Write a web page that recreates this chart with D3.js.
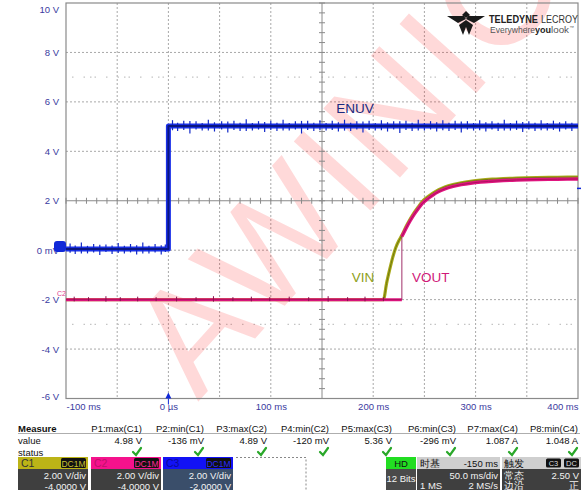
<!DOCTYPE html>
<html>
<head>
<meta charset="utf-8">
<script src="https://cdn.jsdelivr.net/npm/d3@7"></script>
<style>
  html, body { margin: 0; padding: 0; background: #fff; }
  svg { display: block; font-family: "Liberation Sans", Arial, sans-serif; }
</style>
</head>
<body>
<svg id="scope" width="581" height="490"></svg>
<script>
// ---- data ---------------------------------------------------------------
const timeTicks = [-100, 0, 100, 200, 300, 400];
const timeTickLabels = ["-100 ms", "0 \u00b5s", "100 ms", "200 ms", "300 ms", "400 ms"];
const voltTicks = [10, 8, 6, 4, 2, 0, -2, -4, -6];
const voltTickLabels = ["10 V", "8 V", "6 V", "4 V", "2 V", "0 mV", "-2 V", "-4 V", "-6 V"];

// ENUV (C3): low before the enable edge, high after
const enuvTimes  = [-100, 0, 0, 400];
const enuvValues = [0.05, 0.05, 5.02, 5.02];
// noise spikes on ENUV: [time ms, excursion V]
const enuvSpikes = [
  [-96,0.22],[-91,-0.2],[-85,0.26],[-79,-0.18],[-73,0.2],[-67,-0.24],[-61,0.18],[-55,-0.2],
  [-49,0.24],[-43,-0.18],[-37,0.2],[-31,-0.22],[-25,0.26],[-19,-0.18],[-13,0.2],[-7,-0.22],[-3,0.18],
  [4,0.24],[9,-0.2],[15,0.22],[21,-0.3],[27,0.2],[33,-0.18],[39,0.26],[45,-0.22],[52,0.2],[58,-0.26],
  [64,0.22],[70,-0.2],[76,0.28],[82,-0.18],[88,0.2],[94,-0.24],[100,0.22],[106,-0.2],[112,0.26],
  [118,-0.18],[124,0.2],[130,-0.3],[136,0.22],[142,-0.2],[148,0.24],[154,-0.18],[160,0.22],[166,-0.22],
  [172,0.26],[178,-0.2],[184,0.2],[190,-0.26],[196,0.22],[202,-0.18],[208,0.24],[214,-0.22],[220,0.2],
  [226,-0.28],[232,0.22],[238,-0.2],[244,0.26],[250,-0.18],[256,0.2],[262,-0.22],[268,0.24],[274,-0.2],
  [280,0.22],[286,-0.26],[292,0.2],[298,-0.18],[304,0.24],[310,-0.22],[316,0.2],[322,-0.2],[328,0.26],
  [334,-0.18],[340,0.22],[346,-0.24],[352,0.2],[358,-0.2],[364,0.24],[370,-0.18],[376,0.22],[382,-0.22],
  [388,0.2],[394,-0.2]
];

// VIN (C1) soft-start ramp
const vinTimes  = [-100, 210, 213, 216, 219, 222, 225, 228, 232, 236, 240, 244, 248, 253, 258, 264, 270, 278, 286, 295, 305, 320, 340, 360, 380, 400];
const vinValues = [-2.0, -2.0, -1.35, -0.8, -0.3, 0.1, 0.38, 0.6, 0.95, 1.25, 1.52, 1.75, 1.97, 2.15, 2.3, 2.45, 2.56, 2.66, 2.73, 2.79, 2.84, 2.88, 2.92, 2.94, 2.95, 2.96];

// VOUT (C2): held low until the switch closes, then tracks VIN
const voutTimes  = [-100, 228, 228, 232, 236, 240, 244, 248, 253, 258, 264, 270, 278, 286, 295, 305, 320, 340, 360, 380, 400];
const voutValues = [-2.0, -2.0, 0.55, 0.88, 1.18, 1.45, 1.68, 1.89, 2.07, 2.22, 2.37, 2.48, 2.58, 2.65, 2.71, 2.76, 2.8, 2.84, 2.86, 2.87, 2.88];
const voutSpikes = [[-92,0.12],[-78,0.1],[-61,0.14],[-47,0.1],[-30,0.12],[-12,0.1],[8,0.12],[27,0.1],[44,0.14],[63,0.1],[81,0.12],[99,0.1],[118,0.12],[137,0.1],[156,0.14],[175,0.1],[192,0.12],[210,0.1]];

// measurement table
const measureNames  = ["P1:max(C1)", "P2:min(C1)", "P3:max(C2)", "P4:min(C2)", "P5:max(C3)", "P6:min(C3)", "P7:max(C4)", "P8:min(C4)"];
const measureValues = ["4.98 V", "-136 mV", "4.89 V", "-120 mV", "5.36 V", "-296 mV", "1.087 A", "1.048 A"];

// channel descriptors
const channelNames   = ["C1", "C2", "C3"];
const channelScales  = ["2.00 V/div", "2.00 V/div", "2.00 V/div"];
const channelOffsets = ["-4.0000 V", "-4.0000 V", "-2.0000 V"];

// ---- layout -------------------------------------------------------------
const svg = d3.select("#scope");
const plot = { left: 66, right: 578, top: 3, bottom: 398.5 };
const x = d3.scaleLinear().domain([-100, 400]).range([plot.left, plot.right]);
const y = d3.scaleLinear().domain([-6, 10]).range([plot.bottom, plot.top]);

const labelColor = "#3a3aa0";

// grid
const grid = svg.append("g");
const gridTimes = d3.range(-50, 400, 50).filter(t => t !== 150);
const gridVolts = [8, 6, 4, 0, -2, -4];
grid.selectAll("line.v").data(gridTimes).join("line")
  .attr("x1", d => x(d)).attr("x2", d => x(d))
  .attr("y1", plot.top).attr("y2", plot.bottom)
  .attr("stroke", "#a8a8a8").attr("stroke-width", 1).attr("stroke-dasharray", "2,2");
grid.selectAll("line.h").data(gridVolts).join("line")
  .attr("x1", plot.left).attr("x2", plot.right)
  .attr("y1", d => y(d)).attr("y2", d => y(d))
  .attr("stroke", "#a8a8a8").attr("stroke-width", 1).attr("stroke-dasharray", "2,2");

// sparse dotted reference levels
grid.selectAll("line.r").data([7, -3]).join("line")
  .attr("x1", plot.left + 6).attr("x2", plot.right)
  .attr("y1", d => y(d)).attr("y2", d => y(d))
  .attr("stroke", "#c4c4c4").attr("stroke-width", 1.2)
  .attr("stroke-dasharray", "1.5,10,1.5,5,1.5,3,1.5,10");

// watermark
svg.append("text")
  .attr("transform", "translate(198,402) rotate(-48)")
  .attr("font-size", 150).attr("font-family", "Liberation Sans, Arial, sans-serif")
  .attr("fill", "#ff1010").attr("fill-opacity", 0.16)
  .attr("letter-spacing", 4)
  .text("AWINIC");

// centre crosshair axes with minor ticks
const cross = svg.append("g").attr("stroke", "#8a8a8a").attr("stroke-width", 1);
cross.append("line").attr("x1", plot.left).attr("x2", plot.right).attr("y1", y(2)).attr("y2", y(2));
cross.append("line").attr("x1", x(150)).attr("x2", x(150)).attr("y1", plot.top).attr("y2", plot.bottom);
const minorT = d3.range(-100, 400.1, 10);
cross.selectAll("line.mt").data(minorT).join("line")
  .attr("x1", d => x(d)).attr("x2", d => x(d)).attr("y1", y(2) - 3).attr("y2", y(2) + 3);
const minorV = d3.range(-6, 10.01, 0.4);
cross.selectAll("line.mv").data(minorV).join("line")
  .attr("x1", x(150) - 3).attr("x2", x(150) + 3).attr("y1", d => y(d)).attr("y2", d => y(d));

// frame
svg.append("rect").attr("x", plot.left).attr("y", plot.top)
  .attr("width", plot.right - plot.left).attr("height", plot.bottom - plot.top)
  .attr("fill", "none").attr("stroke", "#8a8a8a").attr("stroke-width", 1.2);

// axes
const yAxis = d3.axisLeft(y).tickValues(voltTicks).tickSize(0)
  .tickFormat((d, i) => voltTickLabels[i]);
const gy = svg.append("g").attr("transform", `translate(${plot.left - 4},0)`).call(yAxis);
gy.select(".domain").remove();
gy.selectAll("text").attr("fill", labelColor).attr("font-size", 9.5)
  .attr("font-family", "Liberation Sans, Arial, sans-serif")
  .attr("dy", (d) => d === 10 ? "0.95em" : (d === -6 ? "0.1em" : "0.32em"));

const xAxis = d3.axisBottom(x).tickValues(timeTicks).tickSize(0)
  .tickFormat((d, i) => timeTickLabels[i]);
const gx = svg.append("g").attr("transform", `translate(0,${plot.bottom + 2})`).call(xAxis);
gx.select(".domain").remove();
gx.selectAll("text").attr("fill", labelColor).attr("font-size", 9.5)
  .attr("font-family", "Liberation Sans, Arial, sans-serif")
  .attr("text-anchor", d => d === -100 ? "start" : (d === 400 ? "end" : "middle"));

// ---- traces -------------------------------------------------------------
const line = d3.line().x(d => x(d[0])).y(d => y(d[1]));
const smooth = d3.line().x(d => x(d[0])).y(d => y(d[1])).curve(d3.curveMonotoneX);
const traces = svg.append("g").attr("fill", "none").attr("stroke-linejoin", "round");

// level of a stepped trace at time t (last sample at or before t)
function levelAt(times, values, t) {
  let v = values[0];
  times.forEach((tt, i) => { if (tt <= t) v = values[i]; });
  return v;
}

// VIN
const vinPts = vinTimes.map((t, i) => [t, vinValues[i]]);
traces.append("path").attr("d", smooth(vinPts)).attr("stroke", "#a8a818").attr("stroke-width", 3.2);
traces.append("path").attr("d", smooth(vinPts)).attr("stroke", "#6e7a10").attr("stroke-width", 1);

// VOUT
const voutFlat = [[voutTimes[0], voutValues[0]], [voutTimes[1], voutValues[1]]];
const voutRamp = voutTimes.slice(2).map((t, i) => [t, voutValues[i + 2]]);
traces.append("path").attr("d", line(voutFlat)).attr("stroke", "#e0157f").attr("stroke-width", 3);
traces.append("path").attr("d", line(voutFlat)).attr("stroke", "#a01058").attr("stroke-width", 0.8);
traces.selectAll("line.vs").data(voutSpikes).join("line")
  .attr("x1", d => x(d[0])).attr("x2", d => x(d[0]))
  .attr("y1", d => y(voutValues[0] - d[1] * 0.6)).attr("y2", d => y(voutValues[0] + d[1]))
  .attr("stroke", "#8a1050").attr("stroke-width", 1);
traces.append("path").attr("d", line([[voutTimes[1], voutValues[1]], [voutTimes[2], voutValues[2]]]))
  .attr("stroke", "#a0306a").attr("stroke-width", 1);
traces.append("path").attr("d", smooth(voutRamp)).attr("stroke", "#e0157f").attr("stroke-width", 3.4);
traces.append("path").attr("d", smooth(voutRamp)).attr("stroke", "#b01060").attr("stroke-width", 1);

// ENUV
const enuvPts = enuvTimes.map((t, i) => [t, enuvValues[i]]);
traces.append("path").attr("d", line(enuvPts)).attr("stroke", "#1a30e8").attr("stroke-width", 5);
traces.selectAll("line.es").data(enuvSpikes).join("line")
  .attr("x1", d => x(d[0])).attr("x2", d => x(d[0]))
  .attr("y1", d => y(levelAt(enuvTimes, enuvValues, d[0]) - d[1] * 0.7))
  .attr("y2", d => y(levelAt(enuvTimes, enuvValues, d[0]) + d[1]))
  .attr("stroke", "#1028c8").attr("stroke-width", 1.2);
traces.append("path").attr("d", line(enuvPts)).attr("stroke", "#0a1680").attr("stroke-width", 2);

// trace names
svg.append("text").attr("x", x(164)).attr("y", y(5.55)).attr("fill", "#1a2a80")
  .attr("font-size", 13.5).text("ENUV");
svg.append("text").attr("x", x(179)).attr("y", y(-1.3)).attr("fill", "#8ea020")
  .attr("font-size", 13.5).text("VIN");
svg.append("text").attr("x", x(238)).attr("y", y(-1.3)).attr("fill", "#d0187a")
  .attr("font-size", 13.5).text("VOUT");

// ground / trigger markers
svg.append("rect").attr("x", 54).attr("y", y(0.05) - 8).attr("width", 12).attr("height", 11)
  .attr("rx", 3).attr("fill", "#1028d8");
svg.append("text").attr("x", 57).attr("y", y(-2) - 4).attr("font-size", 7).attr("fill", "#e04090").text("C2");
svg.append("path")
  .attr("d", `M${x(0) - 3},${plot.bottom} L${x(0)},${plot.bottom - 6} L${x(0) + 3},${plot.bottom} Z`)
  .attr("fill", "#1028d8");
svg.append("line").attr("x1", x(0)).attr("x2", x(0)).attr("y1", plot.bottom).attr("y2", plot.bottom + 6)
  .attr("stroke", "#1028d8").attr("stroke-width", 1);
svg.append("line").attr("x1", plot.right - 1).attr("x2", plot.right + 3).attr("y1", y(2.5)).attr("y2", y(2.5))
  .attr("stroke", "#1028d8").attr("stroke-width", 1.5);

// ---- brand --------------------------------------------------------------
const logo = svg.append("g").attr("fill", "#1a1a1a");
logo.append("path").attr("d", "M447,16 L464,16 L466,19 L458,23 Z");
logo.append("path").attr("d", "M485,16 L468,16 L466,19 L474,23 Z");
logo.append("path").attr("d", "M466,20 L459,25 L463,35 L466,27 Z");
logo.append("path").attr("d", "M466,20 L473,25 L469,35 L466,27 Z");
logo.append("path").attr("d", "M462,15 L466,11 L470,15 L466,18 Z");
const brand = svg.append("g").attr("font-family", "Liberation Sans, Arial, sans-serif");
brand.append("text").attr("x", 489).attr("y", 23).attr("font-size", 11).attr("font-weight", "bold")
  .attr("fill", "#222").attr("textLength", 49).attr("lengthAdjust", "spacingAndGlyphs").text("TELEDYNE");
brand.append("text").attr("x", 541).attr("y", 23).attr("font-size", 11).attr("fill", "#333")
  .attr("textLength", 37).attr("lengthAdjust", "spacingAndGlyphs").text("LECROY");
brand.append("text").attr("x", 490).attr("y", 33).attr("font-size", 9).attr("fill", "#555")
  .attr("textLength", 45).attr("lengthAdjust", "spacingAndGlyphs").text("Everywhere");
brand.append("text").attr("x", 535).attr("y", 33).attr("font-size", 9).attr("font-weight", "bold").attr("fill", "#222")
  .attr("textLength", 16).attr("lengthAdjust", "spacingAndGlyphs").text("you");
brand.append("text").attr("x", 551).attr("y", 33).attr("font-size", 9).attr("fill", "#555")
  .attr("textLength", 18).attr("lengthAdjust", "spacingAndGlyphs").text("look");
brand.append("text").attr("x", 569.5).attr("y", 28.5).attr("font-size", 4.5).attr("fill", "#555").text("\u2122");

// ---- measurement table --------------------------------------------------
const colRight = [142, 204, 267, 329, 392, 456, 518, 578];
const table = svg.append("g").attr("font-size", 9.5).attr("fill", "#111");
table.append("text").attr("x", 18).attr("y", 432).attr("font-weight", "bold").text("Measure");
table.append("text").attr("x", 18).attr("y", 444).text("value");
table.append("text").attr("x", 18).attr("y", 456).text("status");
table.append("line").attr("x1", 18).attr("x2", 580).attr("y1", 433.5).attr("y2", 433.5)
  .attr("stroke", "#999").attr("stroke-width", 0.8);
table.selectAll("text.h").data(measureNames).join("text")
  .attr("x", (d, i) => colRight[i]).attr("y", 432).attr("text-anchor", "end").text(d => d);
table.selectAll("text.v").data(measureValues).join("text")
  .attr("x", (d, i) => colRight[i]).attr("y", 444).attr("text-anchor", "end").text(d => d);
table.selectAll("path.ok").data(measureNames).join("path")
  .attr("d", (d, i) => {
    const cx = colRight[i] - 5;
    return `M${cx - 4},${452} L${cx - 1},${455} L${cx + 4},${448}`;
  })
  .attr("fill", "none").attr("stroke", "#2aa82a").attr("stroke-width", 2.2)
  .attr("stroke-linecap", "round");

// ---- channel descriptor boxes -------------------------------------------
const chX = [18, 91, 163];
const chHead = ["#bcb417", "#f5128c", "#1212f5"];
const chName = ["#333", "#c0106a", "#0a0a9a"];
const chTag  = ["#c8c030", "#ff2a95", "#2a2aff"];
const chBody = ["#3f3f3f", "#3f3f3f", "#3a4e6a"];
const ch = svg.append("g");
channelNames.forEach((name, i) => {
  const g = ch.append("g").attr("transform", `translate(${chX[i]},457)`);
  g.append("rect").attr("width", 70).attr("height", 12).attr("fill", chHead[i]);
  g.append("rect").attr("y", 12).attr("width", 70).attr("height", 22).attr("fill", chBody[i]);
  g.append("text").attr("x", 3).attr("y", 10).attr("font-size", 10.5).attr("fill", chName[i]).text(name);
  g.append("rect").attr("x", 43).attr("y", 1).attr("width", 25).attr("height", 10).attr("rx", 1.5).attr("fill", "#111");
  g.append("text").attr("x", 55.5).attr("y", 9.5).attr("font-size", 8.5).attr("text-anchor", "middle")
    .attr("fill", chTag[i]).text("DC1M");
  g.append("text").attr("x", 68).attr("y", 22).attr("font-size", 9.5).attr("text-anchor", "end")
    .attr("fill", "#f2f2f2").text(channelScales[i]);
  g.append("text").attr("x", 68).attr("y", 32.5).attr("font-size", 9.5).attr("text-anchor", "end")
    .attr("fill", "#f2f2f2").text(channelOffsets[i]);
});
ch.append("path").attr("d", "M236,457.5 L306,457.5 L306,490")
  .attr("fill", "none").attr("stroke", "#888").attr("stroke-dasharray", "2,2");

// ---- acquisition / timebase / trigger -----------------------------------
const acq = svg.append("g").attr("font-size", 9.5);
acq.append("rect").attr("x", 386).attr("y", 457).attr("width", 30).attr("height", 12).attr("fill", "#22dd22");
acq.append("text").attr("x", 401).attr("y", 466.5).attr("text-anchor", "middle").attr("fill", "#111").text("HD");
acq.append("rect").attr("x", 386).attr("y", 469).attr("width", 30).attr("height", 22).attr("fill", "#4a4a4a");
acq.append("text").attr("x", 401).attr("y", 482).attr("text-anchor", "middle").attr("fill", "#f2f2f2").text("12 Bits");

acq.append("rect").attr("x", 417).attr("y", 457).attr("width", 83).attr("height", 12).attr("fill", "#cfcfcf");
acq.append("text").attr("x", 420).attr("y", 466.5).attr("fill", "#111").text("时基");
acq.append("text").attr("x", 498).attr("y", 466.5).attr("text-anchor", "end").attr("fill", "#111").text("-150 ms");
acq.append("rect").attr("x", 417).attr("y", 469).attr("width", 83).attr("height", 22).attr("fill", "#3f3f3f");
acq.append("text").attr("x", 498).attr("y", 479).attr("text-anchor", "end").attr("fill", "#f2f2f2").text("50.0 ms/div");
acq.append("text").attr("x", 420).attr("y", 489).attr("fill", "#f2f2f2").text("1 MS");
acq.append("text").attr("x", 498).attr("y", 489).attr("text-anchor", "end").attr("fill", "#f2f2f2").text("2 MS/s");

acq.append("rect").attr("x", 502).attr("y", 457).attr("width", 79).attr("height", 12).attr("fill", "#cfcfcf");
acq.append("text").attr("x", 504).attr("y", 466.5).attr("fill", "#111").text("触发");
acq.append("rect").attr("x", 546).attr("y", 458.5).attr("width", 15).attr("height", 9).attr("rx", 1.5).attr("fill", "#111");
acq.append("text").attr("x", 553.5).attr("y", 466).attr("text-anchor", "middle").attr("font-size", 7.5).attr("fill", "#ddd").text("C3");
acq.append("rect").attr("x", 564).attr("y", 458.5).attr("width", 15).attr("height", 9).attr("rx", 1.5).attr("fill", "#111");
acq.append("text").attr("x", 571.5).attr("y", 466).attr("text-anchor", "middle").attr("font-size", 7.5).attr("fill", "#ddd").text("DC");
acq.append("rect").attr("x", 502).attr("y", 469).attr("width", 79).attr("height", 22).attr("fill", "#3f3f3f");
acq.append("text").attr("x", 504).attr("y", 479).attr("fill", "#f2f2f2").text("常态");
acq.append("text").attr("x", 579).attr("y", 479).attr("text-anchor", "end").attr("fill", "#f2f2f2").text("2.50 V");
acq.append("text").attr("x", 504).attr("y", 489).attr("fill", "#f2f2f2").text("边沿");
acq.append("text").attr("x", 579).attr("y", 489).attr("text-anchor", "end").attr("fill", "#f2f2f2").text("正");
</script>
</body>
</html>
